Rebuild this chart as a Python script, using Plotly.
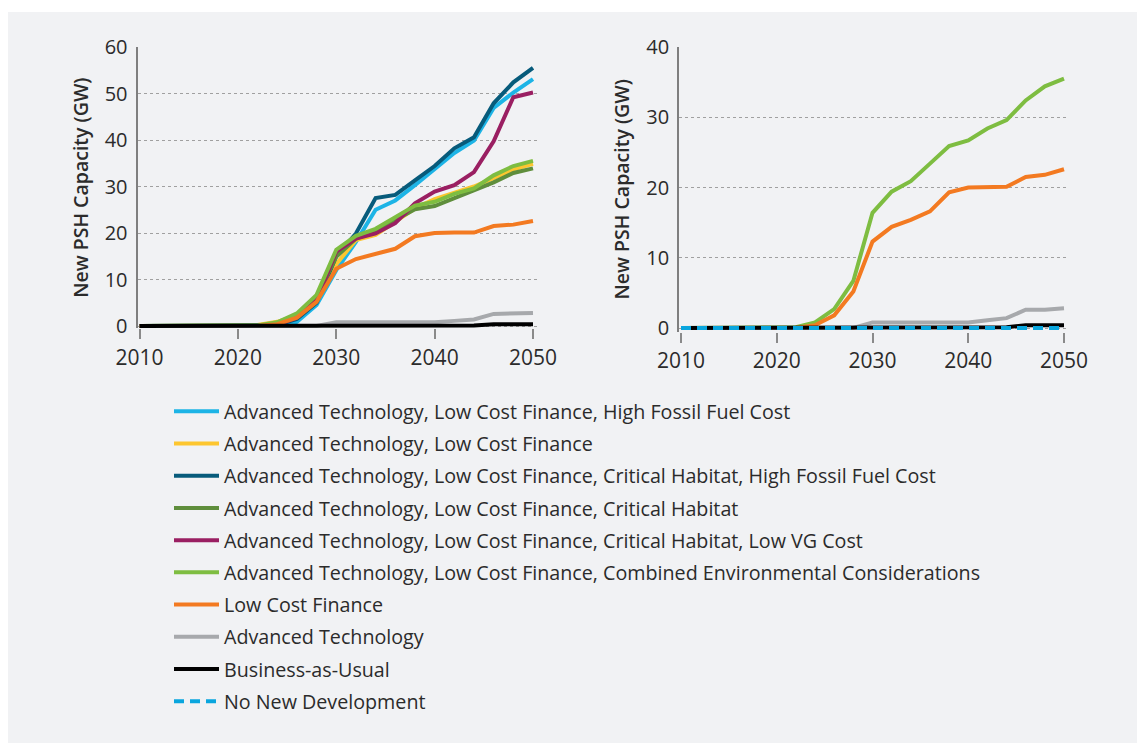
import plotly.graph_objects as go

years = list(range(2010, 2052, 2))

adv_lcf_hffc = [0, 0, 0, 0, 0, 0, 0, 0.1, 0.9, 4.5, 12.0, 18.1, 25.0, 27.0, 30.3, 33.7, 37.2, 39.9, 46.9, 50.2, 53.1]
adv_lcf = [0, 0, 0, 0, 0, 0, 0.2, 0.9, 2.3, 5.3, 13.3, 18.5, 19.6, 22.4, 25.3, 27.3, 28.6, 30.0, 31.8, 33.7, 34.9]
adv_lcf_ch_hffc = [0, 0, 0, 0, 0, 0, 0, 0.2, 1.5, 5.0, 15.0, 19.9, 27.5, 28.2, 31.3, 34.4, 38.2, 40.6, 47.9, 52.4, 55.5]
adv_lcf_ch = [0, 0, 0, 0, 0, 0, 0, 0.5, 2.3, 6.0, 14.9, 18.8, 20.3, 22.8, 25.1, 25.8, 27.5, 29.1, 30.9, 32.9, 33.9]
adv_lcf_ch_lowvg = [0, 0, 0, 0, 0, 0, 0, 0.3, 1.8, 5.5, 16.0, 18.8, 19.9, 22.1, 26.4, 28.9, 30.3, 33.1, 39.7, 49.2, 50.2]
adv_lcf_combined = [0, 0, 0, 0, 0, 0, 0.1, 0.8, 2.7, 6.7, 16.4, 19.4, 20.9, 23.4, 25.9, 26.7, 28.4, 29.6, 32.4, 34.4, 35.5]
low_cost_finance = [0, 0, 0, 0, 0, 0, 0, 0.4, 1.8, 5.2, 12.3, 14.4, 15.4, 16.6, 19.3, 20.0, 20.1, 20.1, 21.5, 21.8, 22.6]
advanced_technology = [0, 0, 0, 0, 0, 0, 0, 0, 0, 0, 0.8, 0.8, 0.8, 0.8, 0.8, 0.8, 1.1, 1.4, 2.6, 2.6, 2.8]
business_as_usual = [0, 0, 0, 0, 0, 0, 0, 0, 0, 0, 0.1, 0.1, 0.1, 0.1, 0.1, 0.1, 0.1, 0.1, 0.4, 0.4, 0.4]
no_new_development = [0] * len(years)

series_names = [
    "Advanced Technology, Low Cost Finance, High Fossil Fuel Cost",
    "Advanced Technology, Low Cost Finance",
    "Advanced Technology, Low Cost Finance, Critical Habitat, High Fossil Fuel Cost",
    "Advanced Technology, Low Cost Finance, Critical Habitat",
    "Advanced Technology, Low Cost Finance, Critical Habitat, Low VG Cost",
    "Advanced Technology, Low Cost Finance, Combined Environmental Considerations",
    "Low Cost Finance",
    "Advanced Technology",
    "Business-as-Usual",
    "No New Development",
]
series_values = [adv_lcf_hffc, adv_lcf, adv_lcf_ch_hffc, adv_lcf_ch, adv_lcf_ch_lowvg,
                 adv_lcf_combined, low_cost_finance, advanced_technology,
                 business_as_usual, no_new_development]
colors = ["#1db4e6", "#fdc62f", "#075b7b", "#5f8e3c", "#9a1f62",
          "#7ebd41", "#f37a21", "#a7a9ac", "#000000", "#0aa6de"]
in_left = [True] * 9 + [False]
in_right = [False, False, False, False, False, True, True, True, True, True]

x_ticks = [2010, 2020, 2030, 2040, 2050]
left_y_ticks = [0, 10, 20, 30, 40, 50, 60]
right_y_ticks = [0, 10, 20, 30, 40]
y_title = "New PSH Capacity (GW)"

W, H = 1145, 743
OX, OY = 8, 8  # page body margin offset
FONT = "Open Sans"
TXT = "#2b2b2b"

fig = go.Figure()

for i, (name, vals, col) in enumerate(zip(series_names, series_values, colors)):
    dash = "10px,6px" if name == "No New Development" else "solid"
    shown = False
    if in_left[i]:
        fig.add_trace(go.Scatter(x=years, y=vals, mode="lines", name=name,
                                 line=dict(color=col, width=4, dash=dash),
                                 legendgroup=name, showlegend=True,
                                 xaxis="x", yaxis="y"))
        shown = True
    if in_right[i]:
        fig.add_trace(go.Scatter(x=years, y=vals, mode="lines", name=name,
                                 line=dict(color=col, width=4, dash=dash),
                                 legendgroup=name, showlegend=not shown,
                                 xaxis="x2", yaxis="y2"))


def xdom(p0, p1):
    return [(p0 - OX) / W, (p1 - OX) / W]


def ydom(top, bottom):
    return [1 - (bottom - OY) / H, 1 - (top - OY) / H]


# page pixel targets: left 2010->139.5, 2050->533 ; 60->47, 0->326
lpy = (533 - 139.5) / 40
lpg = (326 - 47) / 60
rpy = (1064 - 681) / 40
rpg = (328 - 47) / 40

xr = [2009.8, 2050.4]
axis_common_x = dict(range=xr, tickvals=x_ticks, ticks="outside", ticklen=10, tickwidth=1.5,
                     tickcolor="#8a8a8a", showline=False, showgrid=False, zeroline=False,
                     automargin=False,
                     tickfont=dict(family=FONT, size=21, color=TXT))
axis_common_y = dict(ticks="", showline=True, linecolor="#7f7f7f", linewidth=2,
                     showgrid=True, gridcolor="#a0a0a0", gridwidth=1, griddash="3px,3px",
                     zeroline=False, ticklabelstandoff=4, automargin=False,
                     tickfont=dict(family=FONT, size=20, color=TXT),
                     title=dict(text=y_title, standoff=11,
                                font=dict(family=FONT, size=19.5, color=TXT, weight=600)))

fig.update_layout(
    width=W, height=H,
    margin=dict(l=0, r=0, t=0, b=0, pad=0, autoexpand=False),
    paper_bgcolor="#ffffff",
    plot_bgcolor="#f1f2f4",
    xaxis=dict(domain=xdom(139.5 - 0.2 * lpy, 533 + 0.4 * lpy), anchor="y", **axis_common_x),
    yaxis=dict(domain=ydom(47, 326 + 0.5 * lpg), anchor="x", range=[-0.5, 60],
               tickvals=left_y_ticks, **axis_common_y),
    xaxis2=dict(domain=xdom(681 - 0.2 * rpy, 1064 + 0.4 * rpy), anchor="y2", **axis_common_x),
    yaxis2=dict(domain=ydom(47, 328 + 0.5 * rpg), anchor="x2", range=[-0.5, 40],
                tickvals=right_y_ticks, **axis_common_y),
    showlegend=True,
    legend=dict(x=(161 - OX + 8) / W, y=1 - (392 - OY) / H, xanchor="left", yanchor="top",
                bgcolor="rgba(0,0,0,0)", borderwidth=0, tracegroupgap=3.6,
                itemwidth=45, traceorder="grouped",
                font=dict(family=FONT, size=19.7, color=TXT)),
    shapes=[dict(type="rect", xref="paper", yref="paper", x0=0, x1=(1140 - OX) / W,
                 y0=-0.05, y1=1 - (12 - OY) / H, fillcolor="#f1f2f4", line=dict(width=0),
                 layer="below")],
)

fig.write_html("out.html")
